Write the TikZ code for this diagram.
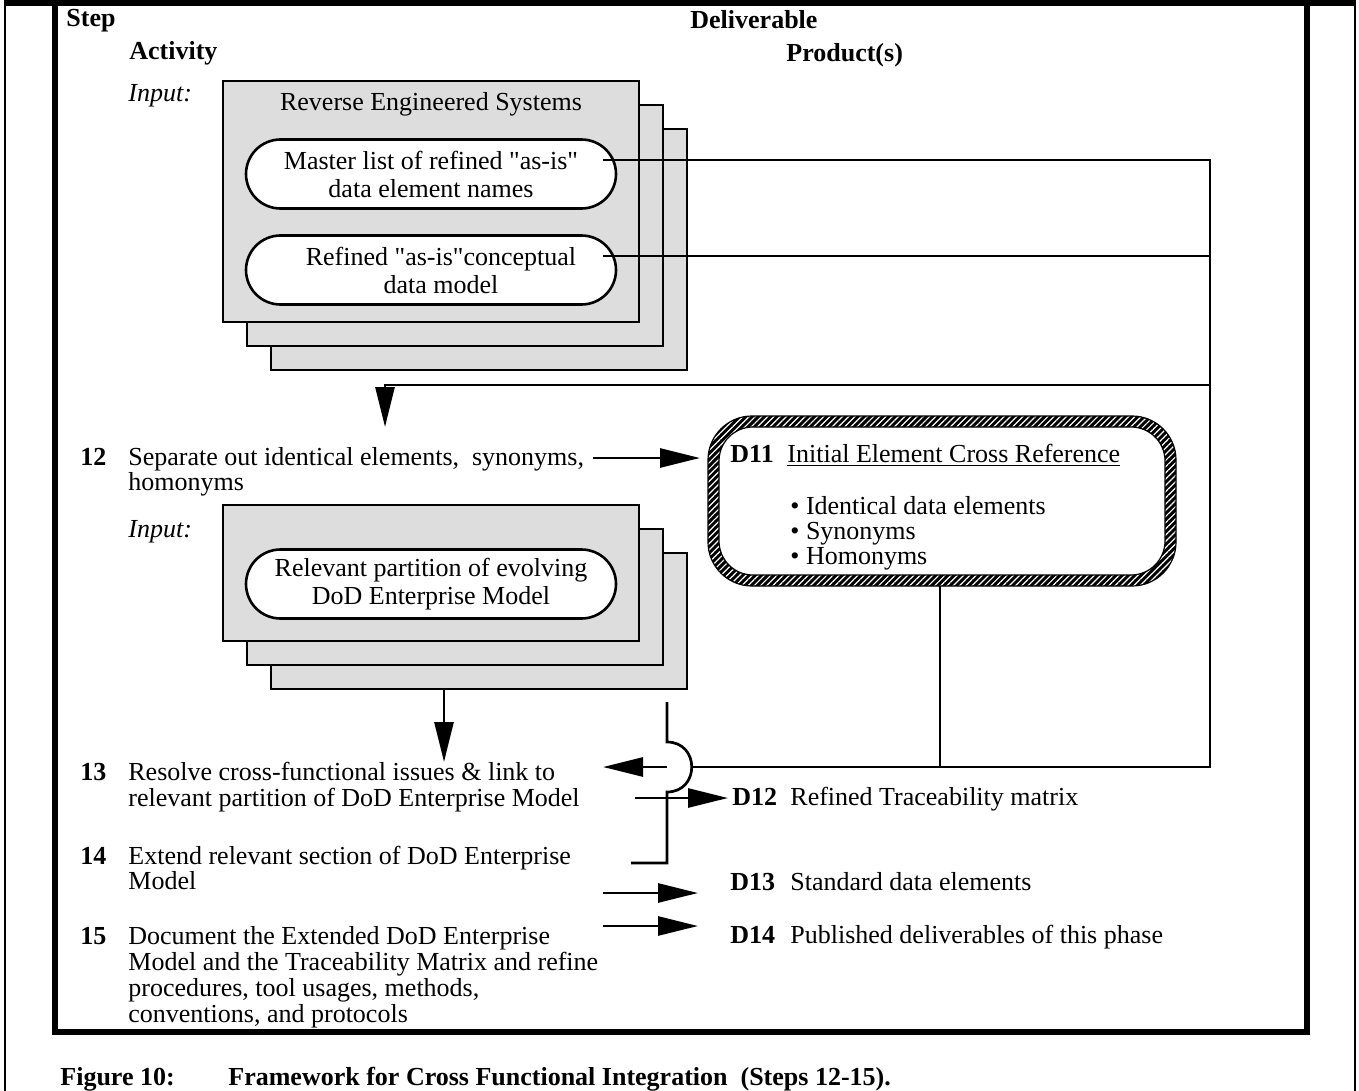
\documentclass[tikz,border=0pt]{standalone}
\usepackage{fontspec}
\setmainfont{Liberation Serif}
\usetikzlibrary{arrows.meta,patterns.meta,shapes.misc}
\definecolor{boxgray}{RGB}{221,221,221}
\tikzset{
  txt/.style={anchor=base west, inner sep=0pt, font=\fontsize{13pt}{13pt}\selectfont},
  bold/.style={anchor=base west, inner sep=0pt, font=\fontsize{13pt}{13pt}\selectfont\bfseries},
  ital/.style={anchor=base west, inner sep=0pt, font=\fontsize{13pt}{13pt}\selectfont\itshape},
  centred/.style={anchor=base, inner sep=0pt, font=\fontsize{13pt}{13pt}\selectfont},
  stackbox/.style={draw, line width=1.4pt, fill=boxgray},
  pill/.style={draw, line width=1.3pt, fill=white, rounded rectangle,
    minimum width=185pt, minimum height=34.5pt, inner sep=0pt, align=center,
    font=\fontsize{13pt}{14pt}\selectfont},
  conn/.style={line width=1.35pt},
  arr/.style={conn, -{Triangle[length=20pt,width=9.5pt]}},
  frame/.style={line width=2.8pt},
}
\newcommand{\dq}{\textquotedbl}
\begin{document}
\begin{tikzpicture}[x=0.5pt,y=-0.5pt]
\useasboundingbox (0,0) rectangle (1359,1091);

% page frame
\draw[line width=1pt] (5,0) -- (5,1091);
\draw[line width=1pt] (1355,0) -- (1355,1091);
\draw[line width=3pt] (5,3) -- (1355,3);
\draw[frame] (55,3) -- (55,1032) -- (1307,1032) -- (1307,3);

% column headers
\node[bold] (hstep) at (66,27) {Step};
\node[bold] (hact) at (129,60) {Activity};
\node[bold] (hdel) at (690,29) {Deliverable};
\node[bold] (hprod) at (786,62) {Product(s)};

% first input stack
\node[ital] (in1) at (128,102) {Input:};
\foreach \d in {48,24,0}
  \draw[stackbox] ({223+\d},{81+\d}) rectangle ({639+\d},{322+\d});
\node[centred] (res) at (431,111) {Reverse Engineered Systems};
\node[pill] (p1) at (431,174) {Master list of refined \dq as-is\dq\\data element names};
\node[pill] (p2) at (431,270) {};
\node[pill, draw=none, fill=none] (p2t) at (441,270) {Refined \dq as-is\dq conceptual\\data model};

% second input stack
\node[ital] (in2) at (128,537) {Input:};
\foreach \d in {48,24,0}
  \draw[stackbox] ({223+\d},{505+\d}) rectangle ({639+\d},{641+\d});
\node[pill] (p3) at (431,584) {Relevant partition of evolving\\DoD Enterprise Model};

% steps
\node[bold] (n12) at (80,465) {12};
\node[txt] (s12a) at (128,465) {Separate out identical elements,\ \ synonyms,};
\node[txt] (s12b) at (128,490) {homonyms};
\node[bold] (n13) at (80,780) {13};
\node[txt] (s13a) at (128,780) {Resolve cross-functional issues \& link to};
\node[txt] (s13b) at (128,806) {relevant partition of DoD Enterprise Model};
\node[bold] (n14) at (80,864) {14};
\node[txt] (s14a) at (128,864) {Extend relevant section of DoD Enterprise};
\node[txt] (s14b) at (128,889) {Model};
\node[bold] (n15) at (80,944) {15};
\node[txt] (s15a) at (128,944) {Document the Extended DoD Enterprise};
\node[txt] (s15b) at (128,970) {Model and the Traceability Matrix and refine};
\node[txt] (s15c) at (128,996) {procedures, tool usages, methods,};
\node[txt] (s15d) at (128,1022) {conventions, and protocols};

% D11 box with hatched border
\fill[black, even odd rule, rounded corners=22pt] (708,416) rectangle (1176,586)
  [rounded corners=17pt] (719,427) rectangle (1165,575);
\fill[pattern={Lines[angle=45,distance=2.2pt,line width=0.6pt]}, pattern color=white,
  even odd rule, rounded corners=22pt] (708,416) rectangle (1176,586)
  [rounded corners=17pt] (719,427) rectangle (1165,575);
\draw[line width=0.6pt, rounded corners=22pt] (708,416) rectangle (1176,586);
\draw[line width=0.6pt, rounded corners=17pt] (719,427) rectangle (1165,575);
\node[bold] (d11) at (730,462) {D11};
\node[txt] (d11t) at (787,462) {\underline{Initial Element Cross Reference}};
\node[txt] (b1) at (790,514) {• Identical data elements};
\node[txt] (b2) at (790,539) {• Synonyms};
\node[txt] (b3) at (790,564) {• Homonyms};

% deliverables
\node[bold] (d12) at (732,805) {D12};
\node[txt] (d12t) at (790,805) {Refined Traceability matrix};
\node[bold] (d13) at (730,890) {D13};
\node[txt] (d13t) at (790,890) {Standard data elements};
\node[bold] (d14) at (730,943) {D14};
\node[txt] (d14t) at (790,943) {Published deliverables of this phase};

% caption
\node[bold] (figno) at (60,1085) {Figure 10:};
\node[bold] (figcap) at (228,1085) {Framework for Cross Functional Integration\ \ (Steps 12-15).};

% connector points
\coordinate (p1o) at (603,160);
\coordinate (p2o) at (603,256);
\coordinate (j1) at (1210,160);
\coordinate (j2) at (1210,256);
\coordinate (j3) at (1210,385);
\coordinate (j4) at (1210,767);
\coordinate (k12) at (385,385);
\coordinate (t12) at (385,427);
\coordinate (a12) at (593,458);
\coordinate (t11) at (700,458);
\coordinate (d11b) at (940,586);
\coordinate (jd) at (940,767);
\coordinate (hopR) at (693,767);
\coordinate (hopL) at (667,767);
\coordinate (t13) at (603,767);
\coordinate (vtop) at (667,702);
\coordinate (vh1) at (667,742);
\coordinate (vh2) at (667,792);
\coordinate (vbot) at (667,863);
\coordinate (vend) at (631,863);
\coordinate (s3b) at (444,689);
\coordinate (s3t) at (444,762);
\coordinate (a12s) at (635,798);
\coordinate (a12e) at (728,798);
\coordinate (a13s) at (603,893);
\coordinate (a13e) at (698,893);
\coordinate (a14s) at (603,926);
\coordinate (a14e) at (698,926);

% connectors
\draw[conn] (p1o) -- (j1) -- (j4) -- (hopR);
\draw[conn] (p2o) -- (j2);
\draw[arr] (j3) -- (k12) -- (t12);
\draw[arr] (a12) -- (t11);
\draw[conn] (d11b) -- (jd);
\draw[arr] (hopL) -- (t13);
\draw[conn] (vtop) -- (vh1) .. controls (700,742) and (700,792) .. (vh2) -- (vbot) -- (vend);
\draw[arr] (s3b) -- (s3t);
\draw[arr] (a12s) -- (a12e);
\draw[arr] (a13s) -- (a13e);
\draw[arr] (a14s) -- (a14e);
\end{tikzpicture}
\end{document}
